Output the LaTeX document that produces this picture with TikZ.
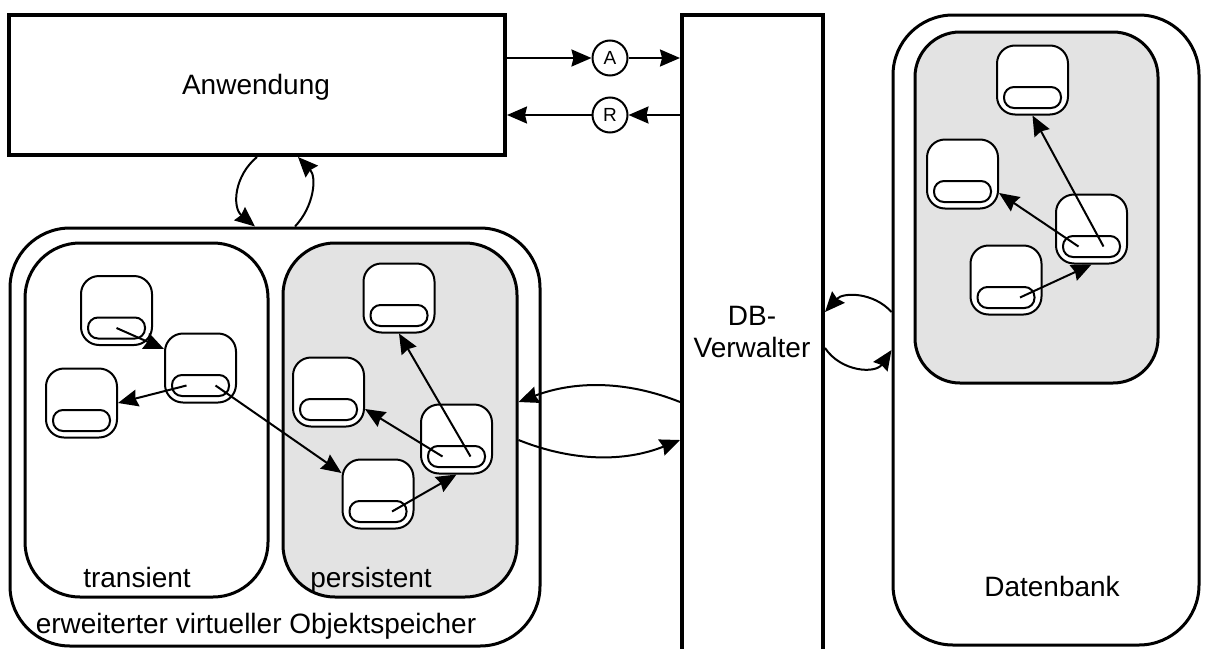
\documentclass[tikz,border=0pt]{standalone}
\usepackage{fontspec}
\setmainfont{Liberation Sans}
\usetikzlibrary{arrows.meta,calc}
\definecolor{storegray}{HTML}{E3E3E3}
\begin{document}
\begin{tikzpicture}[x=1pt,y=-1pt,
  txt/.style={font=\fontsize{28}{32}\selectfont, inner sep=0pt},
  arr/.style={line width=2pt, -{Stealth[length=20pt,width=17pt,inset=2pt]}},
  objouter/.style={draw, line width=2pt, fill=white, rounded corners=18pt,
    minimum width=71pt, minimum height=69pt, inner sep=0pt},
  objpill/.style={draw, line width=2pt, fill=white, rounded corners=10pt,
    minimum width=57pt, minimum height=21pt, inner sep=0pt},
  plainbox/.style={draw, line width=4pt, fill=white, inner sep=0pt},
  roundbox/.style={draw, line width=3pt, inner sep=0pt},
  msgcircle/.style={draw, circle, line width=2pt, fill=white, minimum size=35pt,
    inner sep=0pt, font=\fontsize{19}{21}\selectfont}]

% page frame
\useasboundingbox (0,0) rectangle (1207,648);
\fill[white] (0,0) rectangle (1207,648);

% object macro: outer box plus the pill-shaped slot near its bottom
\newcommand\objbox[3]{%
  \node[objouter] (#1) at (#2,#3) {};
  \node[objpill] (#1p) at ($(#1.center)+(0,17.5)$) {};}

% main blocks
\node[plainbox, minimum width=496pt, minimum height=140pt] (app) at (257,85) {};
\node[plainbox, minimum width=141pt, minimum height=640pt] (dbv) at (752.5,335) {};
\node[roundbox, rounded corners=60pt, minimum width=530pt, minimum height=418pt] (evo) at (275,437) {};
\node[roundbox, rounded corners=55pt, minimum width=243pt, minimum height=354pt] (trans) at (146.5,420) {};
\node[roundbox, rounded corners=52pt, fill=storegray, minimum width=234pt, minimum height=354pt] (pers) at (400,420) {};
\node[roundbox, rounded corners=60pt, minimum width=306pt, minimum height=630pt] (db) at (1046,330) {};
\node[roundbox, rounded corners=45pt, fill=storegray, minimum width=243pt, minimum height=351pt] (dbin) at (1036.5,207.5) {};

% objects
\objbox{T1}{116.5}{310.5}
\objbox{T2}{200.5}{368}
\objbox{T3}{81.5}{403}
\objbox{P1}{399}{298}
\objbox{P2}{328.5}{392}
\objbox{P3}{456.5}{439}
\objbox{P4}{378}{494}
\objbox{O1}{1032.5}{80}
\objbox{O2}{962.5}{174}
\objbox{O3}{1091.5}{229}
\objbox{O4}{1006}{280}

% references between objects
\draw[arr] (T1p.center) -- ($(T2.west)+(0,-19)$);
\draw[arr] ($(T2p.center)+(-14,0)$) -- (T3.east);
\draw[arr] ($(T2p.center)+(15,0)$) -- ($(P4.west)+(0,-21)$);
\draw[arr] ($(P3p.center)+(14,0)$) -- (P1.south);
\draw[arr] ($(P3p.center)+(-14,0)$) -- ($(P2.east)+(0,17)$);
\draw[arr] ($(P4p.center)+(14,0)$) -- (P3.south);
\draw[arr] ($(O3p.center)+(12,0)$) -- (O1.south);
\draw[arr] ($(O3p.center)+(-13,0)$) -- ($(O2.east)+(0,19)$);
\draw[arr] ($(O4p.center)+(14,0)$) -- (O3.south);

% request / result messages
\node[msgcircle] (A) at (610,58) {A};
\node[msgcircle] (R) at (610,115) {R};
\draw[arr] (app.east |- A) -- (A);
\draw[arr] (A) -- (A -| dbv.west);
\draw[arr] (R -| dbv.west) -- (R);
\draw[arr] (R) -- (R -| app.east);

% application <-> object store
\draw[arr] (app.south) .. controls +(-23,19) and +(-23,-19) .. ($(evo.north)+(-20,0)$);
\draw[arr] ($(evo.north)+(20,0)$) .. controls +(19,-20) and +(19,20) .. ($(app.south)+(41,0)$);

% persistent store <-> DB manager
\draw[arr] ($(dbv.west|-pers.east)+(0,-18)$) .. controls +(-55,-22) and +(55,-21) .. ($(pers.east)+(0,-18)$);
\draw[arr] ($(pers.east)+(0,20)$) .. controls +(55,22) and +(-55,22) .. ($(dbv.west|-pers.east)+(0,20)$);

% DB manager <-> database
\draw[arr] ($(db.west)+(0,-18)$) .. controls +(-18,-20) and +(18,-20) .. ($(dbv.east|-db.west)+(0,-18)$);
\draw[arr] ($(dbv.east|-db.west)+(0,18)$) .. controls +(16,24) and +(-16,24) .. ($(db.west)+(0,20)$);

% labels
\node[txt, anchor=base] (appl) at (256,94) {Anwendung};
\node[txt, anchor=base] (dbvl1) at (752,325) {DB-};
\node[txt, anchor=base] (dbvl2) at (752,357) {Verwalter};
\node[txt, anchor=base] (transl) at (137,587) {transient};
\node[txt, anchor=base] (persl) at (371,587) {persistent};
\node[txt, anchor=base] (evol) at (256,633) {erweiterter virtueller Objektspeicher};
\node[txt, anchor=base] (dbl) at (1052,596) {Datenbank};
\end{tikzpicture}
\end{document}
